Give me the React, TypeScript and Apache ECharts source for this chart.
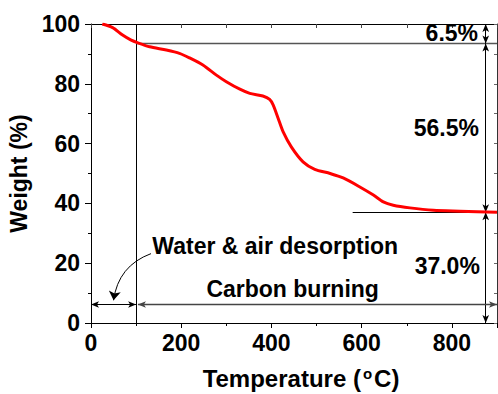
import React, { useEffect, useRef } from 'react';
import * as echarts from 'echarts';

// TGA curve
const temperature = [25, 48, 70, 89, 104, 130, 167, 196, 218, 248, 278, 300, 330, 352, 381, 396, 404, 415, 426, 444, 470, 496, 530, 559, 596, 626, 648, 670, 707, 759, 818, 900];
const weight = [100, 98.8, 96.3, 94.6, 93.7, 92.4, 91.3, 90.2, 88.7, 86.3, 82.9, 80.7, 78.2, 76.8, 75.9, 74.8, 72.9, 68.4, 63.9, 58.9, 53.9, 51.4, 50.0, 48.5, 45.5, 42.8, 40.5, 39.4, 38.5, 37.7, 37.4, 37.0];

// axis ranges
const xRange = [0, 900];
const yRange = [0, 100];

// annotation values
const waterBoundary = 100;          // °C, end of water & air desorption
const levels = [100, 93.5, 37.0, 0]; // weight levels used for the step arrows
const residueStart = 580;            // start of the residue guide line
const stepArrowX = 875;
const phaseArrowY = 6.2;
const carbonArrowStart = 104;

const annotationTexts = ['6.5%', '56.5%', '37.0%', 'Water & air desorption', 'Carbon burning'];
const annotationX = [858, 860, 862, 136, 447];
const annotationY = [97.0, 65.2, 19.1, 25.8, 11.3];
const annotationAlign = ['right', 'right', 'right', 'left', 'center'];

const curvedArrowFrom = [133, 23.2];
const curvedArrowTo = [50, 7.6];

const FONT = "'Liberation Sans', Arial, Helvetica, sans-serif";

export default function App() {
  const ref = useRef<HTMLDivElement>(null);

  useEffect(() => {
    document.body.style.margin = '0';
    if (!ref.current) return;
    const chart = echarts.init(ref.current, null, { renderer: 'svg' });

    const black = '#000';
    const tickLabel = { color: black, fontFamily: FONT, fontWeight: 'bold' as const, fontSize: 23 };

    const guideLines = [
      [{ coord: [waterBoundary, yRange[0]] }, { coord: [waterBoundary, yRange[1]] }],
      [{ coord: [waterBoundary, levels[1]], lineStyle: { color: '#555', width: 1.4 } }, { coord: [xRange[1], levels[1]] }],
      [{ coord: [residueStart, levels[2]] }, { coord: [xRange[1], levels[2]] }],
    ];

    const arrowLines = [
      [{ coord: [stepArrowX, levels[0]] }, { coord: [stepArrowX, levels[1]] }],
      [{ coord: [stepArrowX, levels[1]] }, { coord: [stepArrowX, levels[2]] }],
      [{ coord: [stepArrowX, levels[2]] }, { coord: [stepArrowX, levels[3]] }],
      [{ coord: [xRange[0], phaseArrowY] }, { coord: [waterBoundary, phaseArrowY] }],
      [{ coord: [carbonArrowStart, phaseArrowY], lineStyle: { color: '#444', width: 1.3 } }, { coord: [xRange[1], phaseArrowY] }],
    ];

    const option: any = {
      animation: false,
      grid: { left: 91, right: 1, top: 24, bottom: 71, outerBoundsMode: 'none', containLabel: false },
      xAxis: [
        {
          type: 'value', position: 'bottom', min: xRange[0], max: xRange[1], interval: 200,
          axisLine: { show: true, onZero: false, lineStyle: { color: black, width: 1 } },
          axisTick: { show: true, inside: false, length: 5, lineStyle: { color: black } },
          minorTick: { show: true, splitNumber: 2, length: 3, lineStyle: { color: black } },
          splitLine: { show: false },
          axisLabel: { ...tickLabel, margin: 8, showMaxLabel: false },
          name: '{a|Temperature (}{s|o}{a|C)}',
          nameLocation: 'middle',
          nameGap: 43,
          nameTextStyle: {
            padding: [0, 0, 0, 14],
            rich: {
              a: { fontFamily: FONT, fontWeight: 'bold', fontSize: 24, color: black },
              s: { fontFamily: FONT, fontWeight: 'bold', fontSize: 15, color: black, verticalAlign: 'top', padding: [0, 2, 10, 2] },
            },
          },
        },
        {
          type: 'value', position: 'top', min: xRange[0], max: xRange[1], interval: 100,
          axisLine: { show: true, onZero: false, lineStyle: { color: black, width: 1 } },
          axisTick: { show: true, inside: true, length: 4, lineStyle: { color: '#444' } },
          axisLabel: { show: false },
          splitLine: { show: false },
        },
      ],
      yAxis: [
        {
          type: 'value', position: 'left', min: yRange[0], max: yRange[1], interval: 20,
          axisLine: { show: true, onZero: false, lineStyle: { color: black, width: 1 } },
          axisTick: { show: true, inside: false, length: 6, lineStyle: { color: black } },
          minorTick: { show: true, splitNumber: 2, length: 3, lineStyle: { color: black } },
          splitLine: { show: false },
          axisLabel: { ...tickLabel, margin: 11 },
          name: 'Weight (%)',
          nameLocation: 'middle',
          nameGap: 59,
          nameTextStyle: { fontFamily: FONT, fontWeight: 'bold', fontSize: 23, color: black },
        },
        {
          type: 'value', position: 'right', min: yRange[0], max: yRange[1], interval: 10,
          axisLine: { show: true, onZero: false, lineStyle: { color: '#333', width: 1 } },
          axisTick: { show: true, inside: true, length: 3, lineStyle: { color: '#666' } },
          axisLabel: { show: false },
          splitLine: { show: false },
        },
      ],
      series: [
        {
          type: 'line', name: 'guides', xAxisIndex: 0, yAxisIndex: 0, data: [],
          markLine: {
            silent: true, symbol: ['none', 'none'], animation: false,
            label: { show: false },
            lineStyle: { color: black, width: 1, type: 'solid' },
            emphasis: { disabled: true },
            data: guideLines,
          },
        },
        {
          type: 'line', name: 'arrows', xAxisIndex: 0, yAxisIndex: 0, data: [],
          markLine: {
            silent: true, symbol: ['arrow', 'arrow'], symbolSize: [5, 8], animation: false,
            label: { show: false },
            lineStyle: { color: black, width: 1, type: 'solid' },
            emphasis: { disabled: true },
            data: arrowLines,
          },
        },
        {
          type: 'lines', coordinateSystem: 'cartesian2d', xAxisIndex: 0, yAxisIndex: 0,
          symbol: ['none', 'arrow'], symbolSize: [5, 9], silent: true,
          lineStyle: { color: black, width: 1, curveness: -0.3, opacity: 1 },
          data: [{ coords: [curvedArrowFrom, curvedArrowTo] }],
        },
        {
          type: 'line', name: 'Weight', xAxisIndex: 0, yAxisIndex: 0,
          data: temperature.map((t, i) => [t, weight[i]]),
          smooth: 0.25, showSymbol: false, symbol: 'none',
          lineStyle: { color: '#ff0000', width: 3 },
          z: 5,
        },
        {
          type: 'scatter', name: 'labels', xAxisIndex: 0, yAxisIndex: 0, symbolSize: 0, silent: true,
          itemStyle: { opacity: 0 },
          data: annotationTexts.map((txt, i) => ({
            value: [annotationX[i], annotationY[i]],
            label: {
              show: true, formatter: txt, position: [0, 0],
              align: annotationAlign[i], verticalAlign: 'middle',
              fontFamily: FONT, fontWeight: 'bold', fontSize: 23, color: black, opacity: 1,
            },
          })),
          z: 6,
        },
      ],
    };

    chart.setOption(option);
    return () => chart.dispose();
  }, []);

  return <div ref={ref} style={{ position: 'fixed', left: 0, top: 0, width: 498, height: 394, background: '#fff' }} />;
}
